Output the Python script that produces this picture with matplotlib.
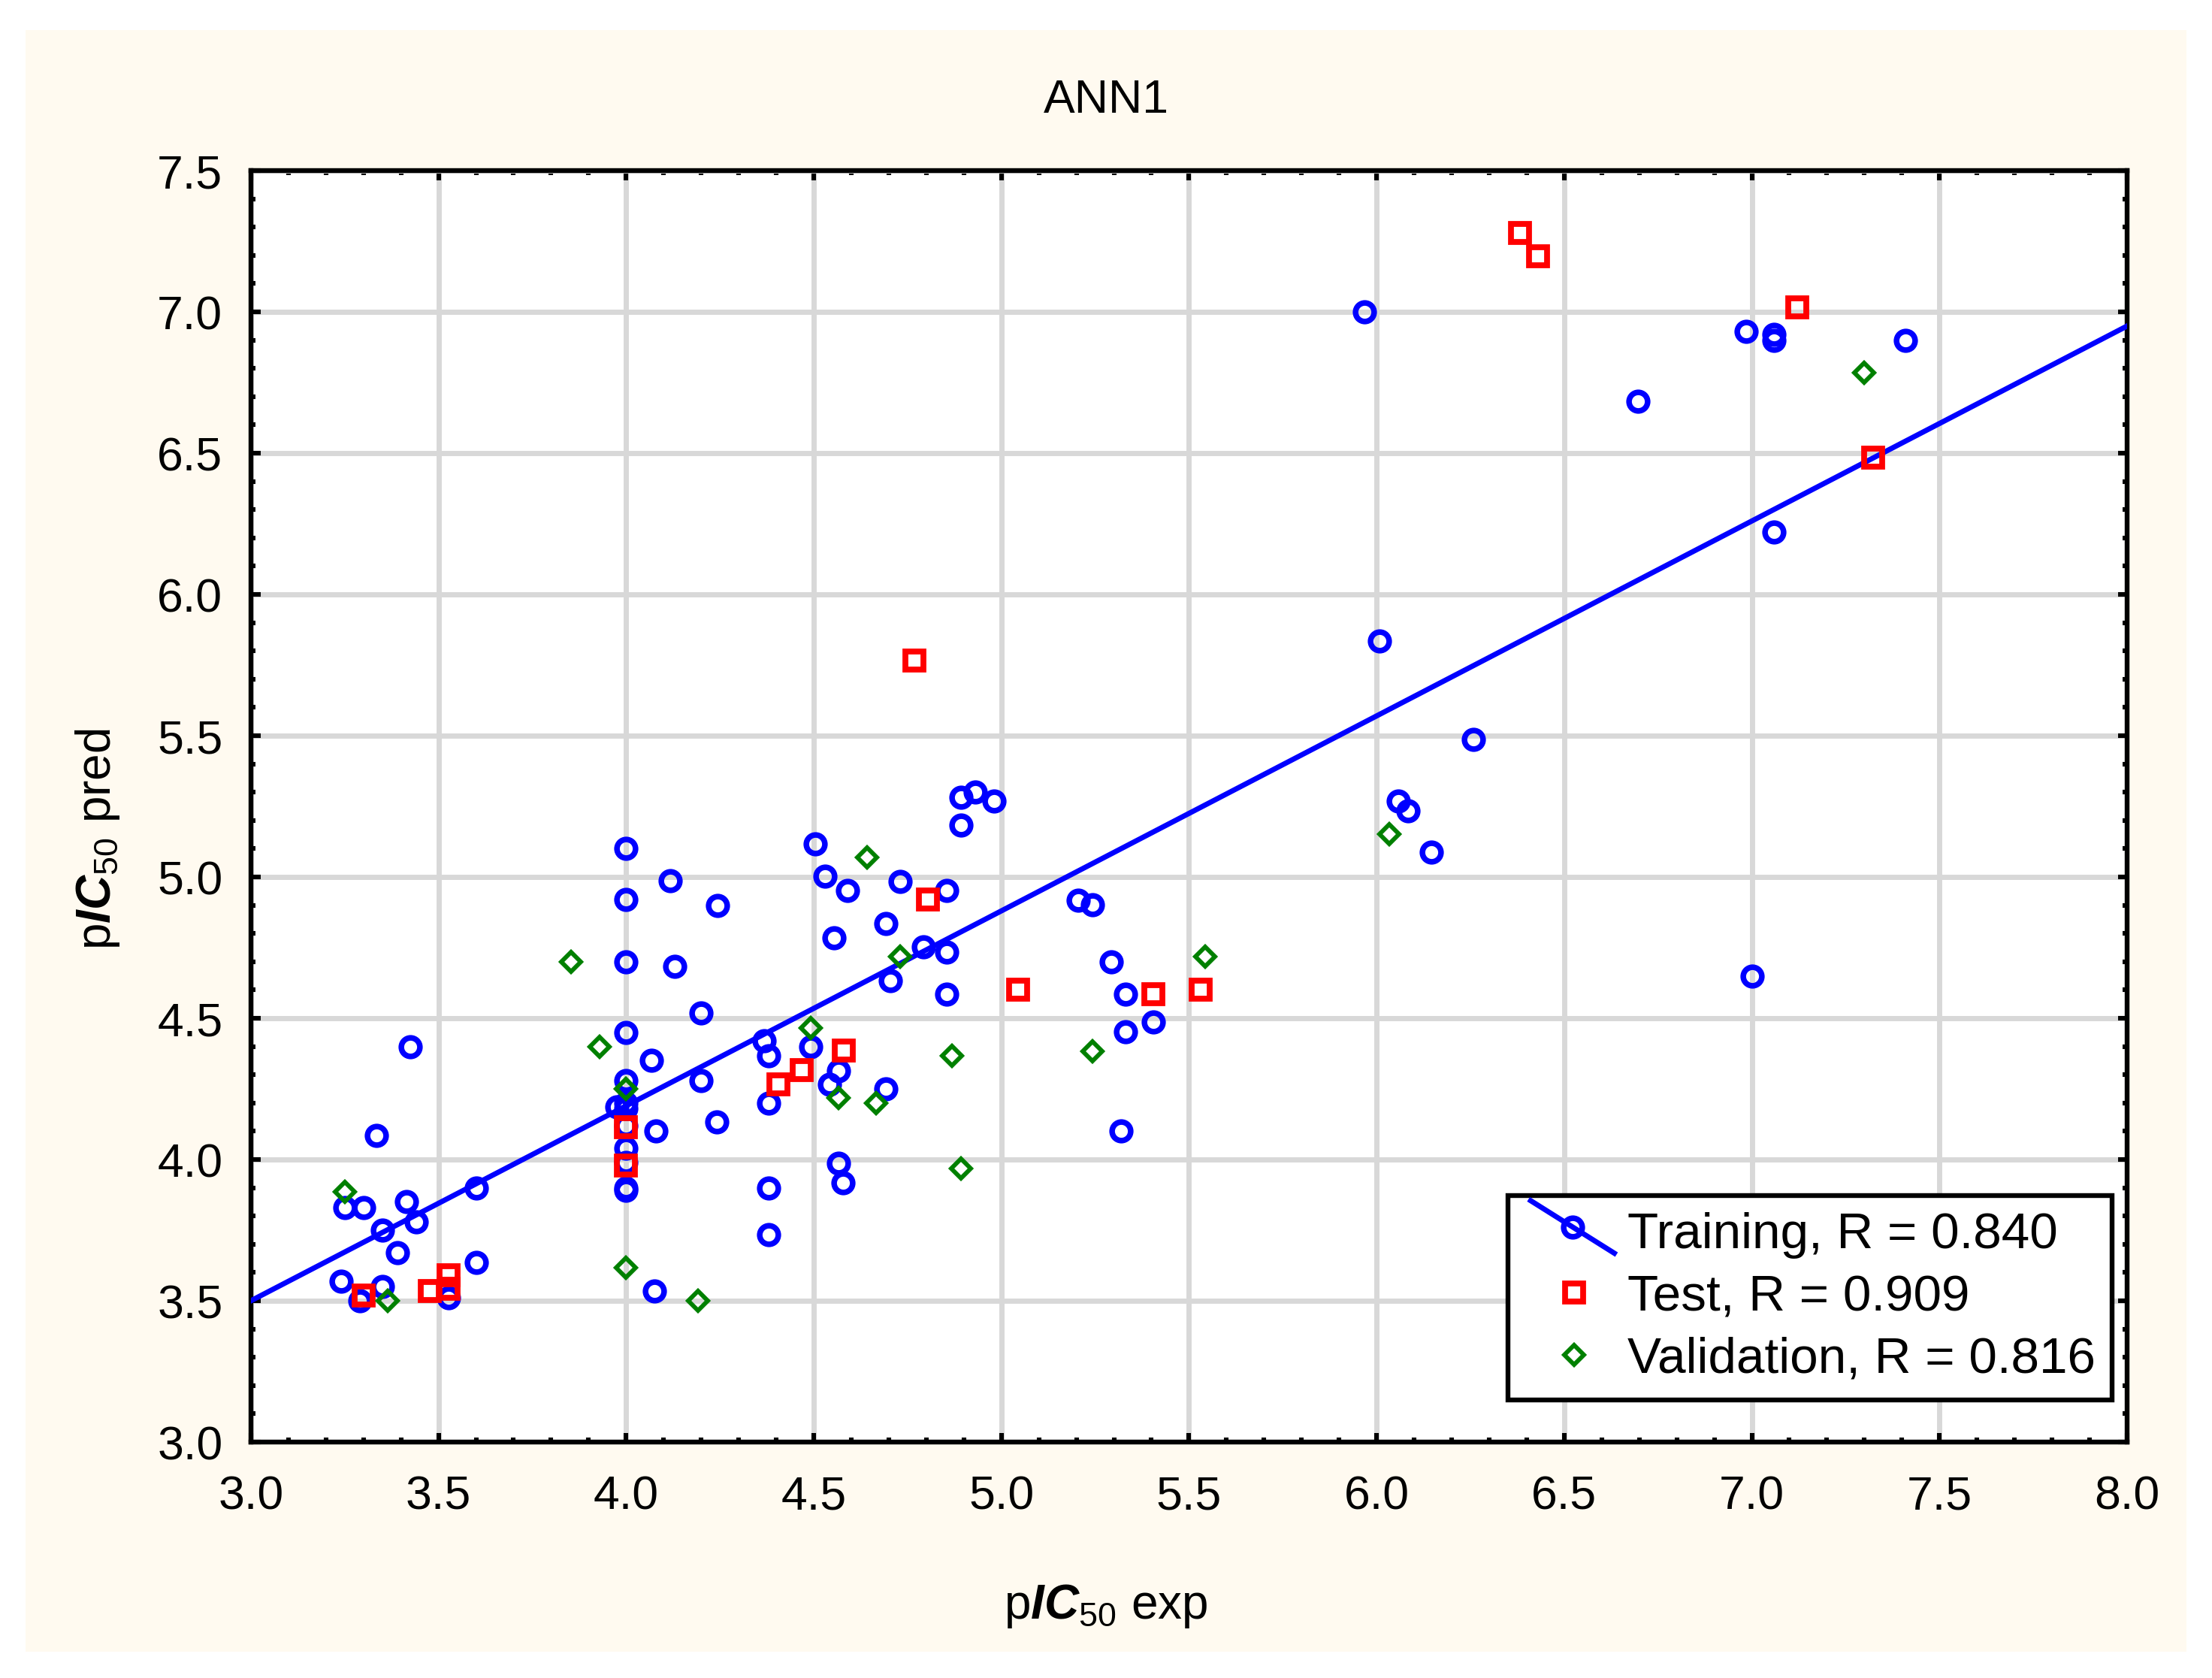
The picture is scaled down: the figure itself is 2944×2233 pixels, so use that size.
import numpy as np
import matplotlib
matplotlib.use("Agg")
import matplotlib.pyplot as plt
from matplotlib.lines import Line2D
from matplotlib.patches import Rectangle
from matplotlib.legend_handler import HandlerLine2D
from matplotlib.ticker import MultipleLocator

plt.rcParams['font.family'] = ['Liberation Sans', 'DejaVu Sans']
plt.rcParams['mathtext.fontset'] = 'custom'
plt.rcParams['mathtext.rm'] = 'Liberation Sans'
plt.rcParams['mathtext.it'] = 'Liberation Sans:italic'
plt.rcParams['mathtext.bf'] = 'Liberation Sans:bold'
try:
    plt.rcParams['mathtext.bfit'] = 'Liberation Sans:italic:bold'
except KeyError:
    pass

# training set (experimental, predicted)
train_x = [3.24, 3.25, 3.29, 3.30, 3.335, 3.35, 3.35, 3.39, 3.415, 3.425, 3.44, 3.527,
           3.60, 3.60, 3.976, 4.0, 4.0, 4.0, 4.0, 4.0, 4.0, 4.0, 4.0, 4.0, 4.0, 4.0, 4.0,
           4.067, 4.075, 4.08, 4.118, 4.13, 4.20, 4.20, 4.242, 4.244,
           4.368, 4.379, 4.379, 4.38, 4.38, 4.493, 4.504, 4.53, 4.542, 4.554, 4.567,
           4.567, 4.579, 4.591, 4.692, 4.692, 4.704, 4.73, 4.792, 4.854, 4.854, 4.854,
           4.893, 4.93, 4.98, 4.893,
           5.205, 5.243, 5.293, 5.331, 5.331, 5.405, 5.318,
           5.968, 6.008, 6.058, 6.083, 6.145, 6.258, 6.696, 6.985, 7.0, 7.059, 7.059,
           7.059, 7.41]
train_y = [3.57, 3.83, 3.50, 3.83, 4.084, 3.75, 3.55, 3.67, 3.85, 4.40, 3.78, 3.51,
           3.90, 3.635, 4.186, 4.18, 4.20, 4.12, 4.04, 3.99, 3.89, 3.90, 4.28, 4.45, 4.70, 4.92, 5.10,
           4.35, 3.534, 4.10, 4.986, 4.684, 4.518, 4.28, 4.133, 4.90,
           4.42, 4.367, 4.20, 3.90, 3.733, 4.398, 5.117, 5.002, 4.266, 4.785, 4.315,
           3.988, 3.917, 4.951, 4.834, 4.25, 4.634, 4.984, 4.753, 4.953, 4.735, 4.585,
           5.283, 5.30, 5.268, 5.184,
           4.919, 4.903, 4.70, 4.584, 4.451, 4.486, 4.10,
           7.0, 5.834, 5.27, 5.235, 5.087, 5.487, 6.683, 6.932, 4.65, 6.92, 6.90,
           6.22, 6.90]

# test set
test_x = [3.30, 3.476, 3.527, 3.527, 4.0, 4.0, 4.405, 4.468, 4.58, 4.768, 4.805,
          5.044, 5.406, 5.531, 6.383, 6.431, 7.122, 7.323]
test_y = [3.52, 3.534, 3.59, 3.544, 4.115, 3.98, 4.265, 4.316, 4.385, 5.766, 4.92,
          4.60, 4.584, 4.602, 7.28, 7.197, 7.016, 6.485]

# validation set
val_x = [3.25, 3.365, 3.854, 3.93, 4.0, 4.0, 4.191, 4.493, 4.567, 4.642, 4.667,
         4.73, 4.868, 4.892, 5.243, 5.543, 6.033, 7.30]
val_y = [3.885, 3.50, 4.70, 4.40, 4.25, 3.617, 3.50, 4.466, 4.219, 5.068, 4.20,
         4.718, 4.367, 3.968, 4.384, 4.718, 5.153, 6.784]

# regression line of the training set
fit_x = [3.0, 8.0]
fit_y = [3.50, 6.95]

labels = ["Training, R = 0.840", "Test, R = 0.909", "Validation, R = 0.816"]


class DiagLineHandler(HandlerLine2D):
    # statistica draws the fit line in the legend as a diagonal
    def create_artists(self, legend, orig_handle, xdescent, ydescent,
                       width, height, fontsize, trans):
        arts = super().create_artists(legend, orig_handle, xdescent, ydescent,
                                      width, height, fontsize, trans)
        for a in arts:
            xd = np.asarray(a.get_xdata())
            if len(xd) > 1:
                a.set_xdata(-xdescent + width * np.linspace(0.06, 0.91, len(xd)))
                a.set_ydata(np.linspace(height * 1.34, -height * 0.14, len(xd)))
        return arts


fig = plt.figure(figsize=(14.72, 11.165), dpi=200)
fig.patches.append(Rectangle((0.01155, 0.01567), 0.9769, 0.9664,
                             transform=fig.transFigure, facecolor='#FFFAF0',
                             edgecolor='none', zorder=-10))
ax = fig.add_axes([0.1134, 0.1406, 0.8482, 0.7577])
ax.set_facecolor('white')

ax.plot(train_x, train_y, linestyle='none', marker='o', ms=8.9, mew=2.7,
        mfc='none', mec='#0000FF', zorder=3)
ax.plot(fit_x, fit_y, color='#0000FF', lw=2.5, zorder=4)
ax.plot(test_x, test_y, linestyle='none', marker='s', ms=8.9, mew=2.8,
        mfc='none', mec='#FF0000', zorder=5)
ax.plot(val_x, val_y, linestyle='none', marker='D', ms=6.5, mew=2.1,
        mfc='none', mec='#008000', zorder=6)

ax.set_xlim(3.0, 8.0)
ax.set_ylim(3.0, 7.5)
ax.xaxis.set_major_locator(MultipleLocator(0.5))
ax.yaxis.set_major_locator(MultipleLocator(0.5))
ax.xaxis.set_minor_locator(MultipleLocator(0.1))
ax.yaxis.set_minor_locator(MultipleLocator(0.1))
ax.xaxis.set_major_formatter(matplotlib.ticker.FormatStrFormatter('%.1f'))
ax.yaxis.set_major_formatter(matplotlib.ticker.FormatStrFormatter('%.1f'))
ax.grid(True, which='major', color='#D8D8D8', lw=2.5, zorder=0)
ax.set_axisbelow(True)
for sp in ax.spines.values():
    sp.set_linewidth(2.3)
    sp.set_color('black')
ax.tick_params(which='both', direction='in', top=True, right=True, width=2.2, color='black')
ax.tick_params(which='major', length=4.5, labelsize=22.5)
ax.tick_params(which='minor', length=2.0)
ax.tick_params(axis='x', which='major', pad=15.5)
ax.tick_params(axis='y', which='major', pad=13.5)

fig.text(0.5, 0.9328, "ANN1", ha='center', va='baseline', fontsize=22.5)
fig.text(0.5, 0.0354, r'p$\mathbfit{IC}_{50}$ exp', ha='center', va='baseline', fontsize=23)
fig.text(0.05, 0.5, r'p$\mathbfit{IC}_{50}$ pred', ha='center', va='baseline',
         rotation=90, rotation_mode='anchor', fontsize=23)

h_train = Line2D([], [], color='#0000FF', lw=2.5, marker='o', ms=8.9, mew=2.7,
                 mfc='none', mec='#0000FF')
h_test = Line2D([], [], linestyle='none', marker='s', ms=8.9, mew=2.8,
                mfc='none', mec='#FF0000')
h_val = Line2D([], [], linestyle='none', marker='D', ms=6.5, mew=2.1,
               mfc='none', mec='#008000')
leg = ax.legend([h_train, h_test, h_val], labels, loc='lower right',
                bbox_to_anchor=(0.992, 0.033), borderaxespad=0, fontsize=24.3,
                numpoints=1, handlelength=1.94, handletextpad=0.08, labelspacing=0.31,
                borderpad=0.33, fancybox=False, framealpha=1, edgecolor='black',
                handler_map={h_train: DiagLineHandler()})
leg.get_frame().set_linewidth(2.3)
leg.set_zorder(10)

fig.savefig('out.png', dpi=200)
